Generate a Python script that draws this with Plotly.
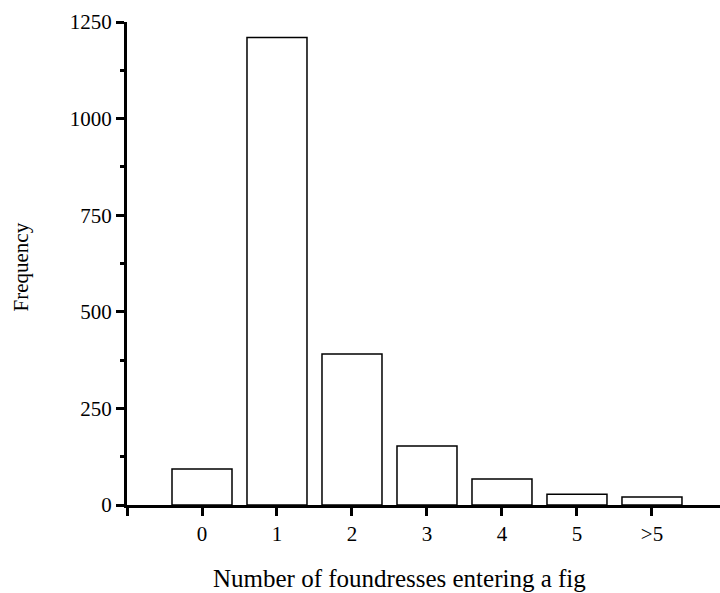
import plotly.graph_objects as go

categories = ["0", "1", "2", "3", "4", "5", ">5"]
frequency = [93, 1210, 391, 153, 67, 28, 21]
y_ticks = [0, 250, 500, 750, 1000, 1250]
y_minor = [125, 375, 625, 875, 1125]

x_pos = list(range(len(categories)))

fig = go.Figure()
fig.add_trace(go.Bar(
    x=x_pos, y=frequency, width=0.8,
    marker=dict(color="white", line=dict(color="black", width=1.5)),
    showlegend=False, hoverinfo="skip",
))

ff = "Liberation Serif, Times New Roman, serif"
tick_font = dict(family=ff, size=21, color="black")

fig.update_layout(
    width=720, height=593,
    margin=dict(l=127, r=0, t=22, b=88),
    plot_bgcolor="white", paper_bgcolor="white",
    font=tick_font,
)
fig.update_xaxes(
    range=[-1, 6.907], showgrid=False, zeroline=False,
    showline=True, linecolor="black", linewidth=3,
    tickmode="array", tickvals=[-1] + x_pos, ticktext=[""] + categories,
    ticks="outside", ticklen=8, tickwidth=3, tickcolor="black",
    ticklabelstandoff=0, tickfont=tick_font,
)
fig.update_yaxes(
    range=[0, 1250], showgrid=False, zeroline=False,
    showline=True, linecolor="black", linewidth=3,
    tickmode="array", tickvals=y_ticks,
    ticks="outside", ticklen=8, tickwidth=3, tickcolor="black",
    minor=dict(tickmode="array", tickvals=y_minor, ticks="outside", ticklen=4, tickwidth=3, tickcolor="black"),
    ticklabelstandoff=0, tickfont=tick_font,
)
fig.add_annotation(text="Frequency", xref="paper", yref="paper", x=-0.1771, y=0.4938,
                   xanchor="center", yanchor="middle", textangle=-90, showarrow=False,
                   font=dict(family=ff, size=21, color="black"))
fig.add_annotation(text="Number of foundresses entering a fig", xref="paper", yref="paper",
                   x=0.4592, y=-0.1522,
                   xanchor="center", yanchor="middle", showarrow=False,
                   font=dict(family=ff, size=25, color="black"))

fig.write_html("out.html", config={"displayModeBar": False},
               post_script="document.body.style.margin='0';document.body.style.overflow='hidden';")
